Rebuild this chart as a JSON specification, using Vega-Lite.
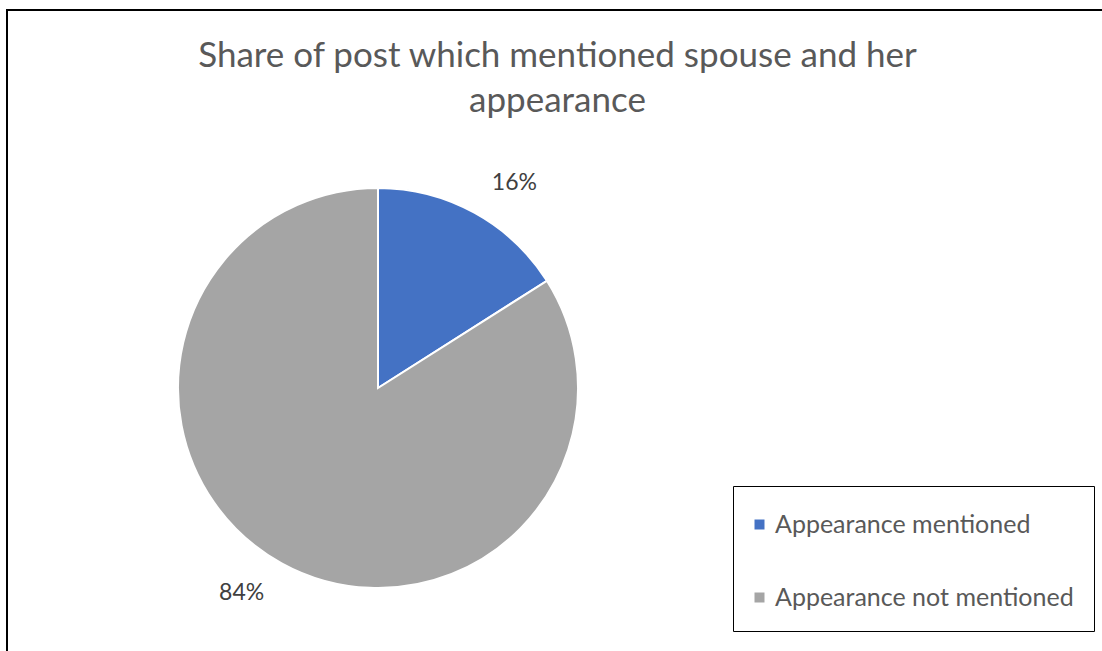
{
  "$schema": "https://vega.github.io/schema/vega-lite/v6.json",
  "autosize": {"type": "none"},
  "width": 1095,
  "height": 641,
  "padding": {"left": 7, "top": 10, "right": 0, "bottom": 0},
  "background": "white",
  "view": {"stroke": "#000000", "strokeWidth": 2, "strokeDash": [1095, 1736, 641]},
  "config": {
    "view": {"stroke": "#000000", "strokeWidth": 2, "strokeDash": [1095, 1736, 641]},
    "style": {"cell": {"stroke": "#000000", "strokeWidth": 2, "strokeDash": [1095, 1736, 641]}},
    "font": "Lato"
  },
  "title": {
    "text": ["Share of post which mentioned spouse and her", "appearance"],
    "anchor": "middle",
    "frame": "group",
    "orient": "top",
    "font": "Lato",
    "fontSize": 35,
    "fontWeight": "normal",
    "color": "#595959",
    "lineHeight": 45,
    "baseline": "top",
    "offset": -81,
    "dy": 28,
    "dx": 3
  },
  "data": {
    "values": [
      {"category": "Appearance mentioned", "share": 0.16},
      {"category": "Appearance not mentioned", "share": 0.84}
    ]
  },
  "encoding": {
    "theta": {"field": "share", "type": "quantitative", "stack": true},
    "color": {
      "field": "category",
      "type": "nominal",
      "sort": ["Appearance mentioned", "Appearance not mentioned"],
      "scale": {"domain": ["Appearance mentioned", "Appearance not mentioned"], "range": ["#4472C4", "#A5A5A5"]},
      "legend": {
        "title": " ",
        "titleFontSize": 6,
        "titlePadding": 0,
        "orient": "none",
        "legendX": 726,
        "legendY": 476,
        "strokeColor": "#000000",
        "fillColor": "#ffffff",
        "padding": 20,
        "rowPadding": 47,
        "symbolType": "square",
        "symbolSize": 100,
        "symbolStrokeWidth": 0,
        "symbolOffset": -6,
        "labelFont": "Lato",
        "labelFontSize": 25,
        "labelColor": "#595959",
        "labelOffset": 3,
        "labelLimit": 400
      }
    }
  },
  "layer": [
    {
      "mark": {"type": "arc", "x": 371, "y": 378, "outerRadius": 200, "stroke": "#ffffff", "strokeWidth": 2}
    },
    {
      "mark": {"type": "text", "x": 371, "y": 378, "radius": 246, "thetaOffset": 0.085, "font": "Lato", "fontSize": 23, "color": "#404040", "baseline": "middle", "align": "center"},
      "encoding": {
        "text": {"field": "share", "type": "quantitative", "format": ".0%"},
        "color": {"value": "#404040"}
      }
    }
  ]
}
